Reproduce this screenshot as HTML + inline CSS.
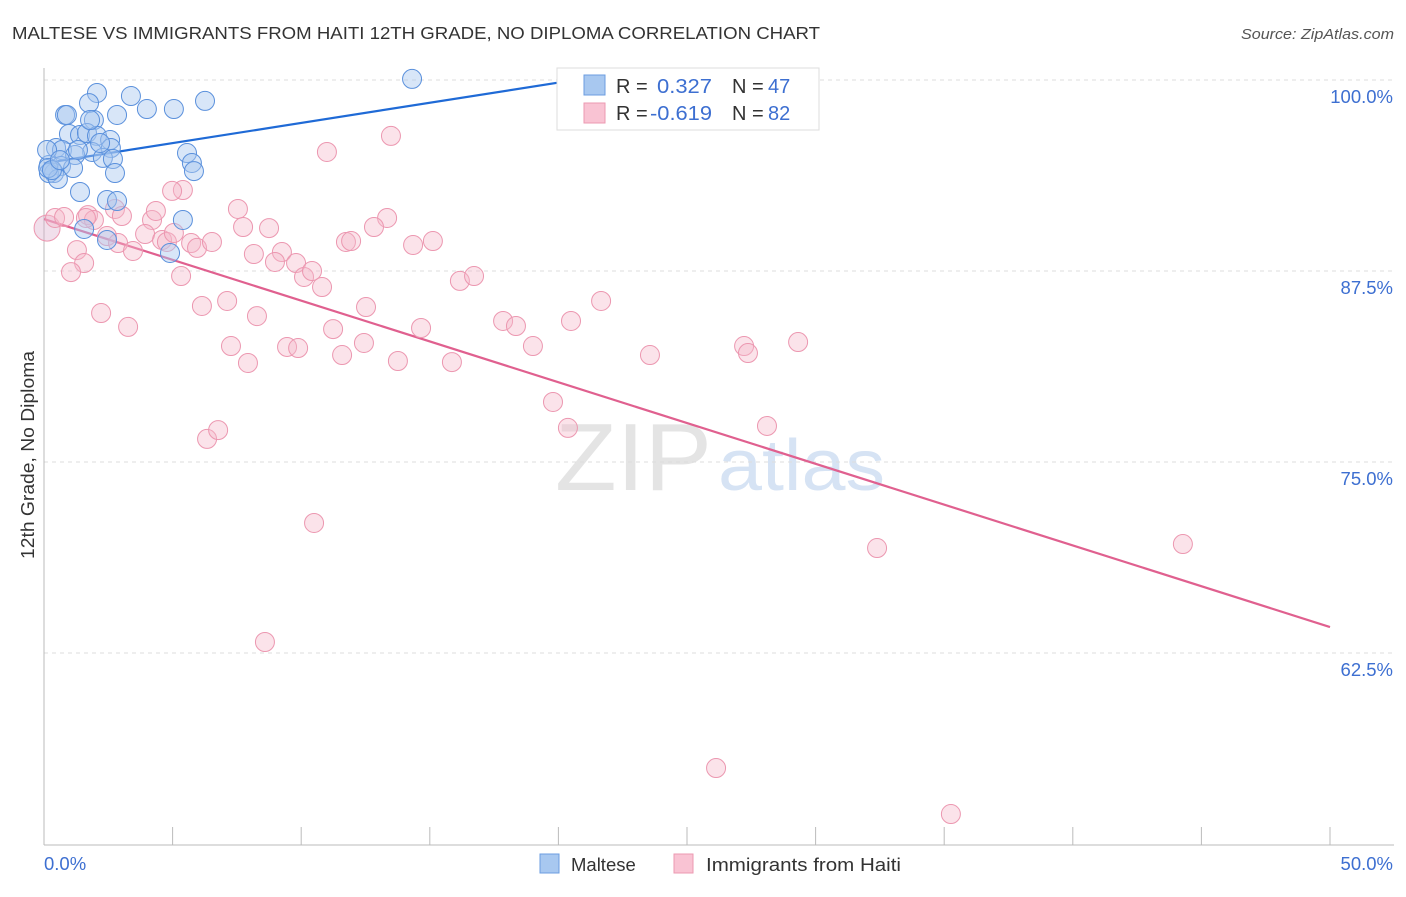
<!DOCTYPE html>
<html><head><meta charset="utf-8"><style>
body{margin:0;background:#fff;font-family:"Liberation Sans",sans-serif;}
svg text{font-family:"Liberation Sans",sans-serif;}
</style></head><body>
<svg id="chart" width="1406" height="892">
<text x="12" y="39" font-size="17.5" fill="#333" textLength="808" lengthAdjust="spacingAndGlyphs">MALTESE VS IMMIGRANTS FROM HAITI 12TH GRADE, NO DIPLOMA CORRELATION CHART</text>
<text x="1394" y="39" font-size="15" fill="#555" font-style="italic" text-anchor="end" textLength="153" lengthAdjust="spacingAndGlyphs">Source: ZipAtlas.com</text>
<text transform="translate(34,455) rotate(-90)" font-size="18" fill="#333" text-anchor="middle" textLength="208" lengthAdjust="spacingAndGlyphs">12th Grade, No Diploma</text>
<g><text x="555" y="490" font-size="96" fill="#e4e4e4" textLength="157" lengthAdjust="spacingAndGlyphs" font-family="Liberation Serif">ZIP</text><text x="718" y="490" font-size="72" fill="#d6e3f4" textLength="167" lengthAdjust="spacingAndGlyphs">atlas</text></g>
<g id="grid"></g><g id="axes"></g><g id="lines"></g><g id="pts"></g>
<g>
<rect x="557" y="68" width="262" height="62" fill="#fff" stroke="#ddd"/>
<rect x="584" y="75" width="21" height="20" fill="#a8c8f0" stroke="#6b9de0"/>
<rect x="584" y="103" width="21" height="20" fill="#f9c3d3" stroke="#ec9ab2"/>
<text x="616" y="93" font-size="20" fill="#333">R = </text><text x="657" y="93" font-size="20" fill="#3d6fd1" textLength="55" lengthAdjust="spacingAndGlyphs">0.327</text>
<text x="732" y="93" font-size="20" fill="#333">N = </text><text x="768" y="93" font-size="20" fill="#3d6fd1">47</text>
<text x="616" y="120" font-size="20" fill="#333">R = </text><text x="650" y="120" font-size="20" fill="#3d6fd1" textLength="62" lengthAdjust="spacingAndGlyphs">-0.619</text>
<text x="732" y="120" font-size="20" fill="#333">N = </text><text x="768" y="120" font-size="20" fill="#3d6fd1">82</text>
</g>
<g>
<rect x="540" y="854" width="19" height="19" fill="#a8c8f0" stroke="#6b9de0"/>
<text x="571" y="871" font-size="18.5" fill="#333">Maltese</text>
<rect x="674" y="854" width="19" height="19" fill="#f9c3d3" stroke="#ec9ab2"/>
<text x="706" y="871" font-size="18.5" fill="#333" textLength="195" lengthAdjust="spacingAndGlyphs">Immigrants from Haiti</text>
</g>
</svg>
<script>
const yTicks=[100,87.5,75,62.5];
const yTickLabels=["100.0%","87.5%","75.0%","62.5%"];
const xTicks=[0,5,10,15,20,25,30,35,40,45,50];
const blueX=[14.31,2.06,3.38,6.26,1.75,4.00,5.05,0.82,0.89,2.84,1.94,0.97,1.40,1.67,2.06,2.57,0.47,0.70,1.87,2.60,1.21,5.56,2.29,2.68,5.75,0.19,0.66,1.13,5.83,0.39,2.76,0.19,0.54,1.40,2.45,2.84,5.40,1.56,2.45,4.90,0.12,0.16,2.18,0.31,1.32,0.62,1.79];
const blueY=[100.07,99.15,98.95,98.63,98.49,98.10,98.10,97.71,97.71,97.71,97.38,96.47,96.40,96.53,96.34,96.07,95.55,95.42,95.29,95.55,95.09,95.22,94.90,94.83,94.57,94.44,94.37,94.24,94.04,93.91,93.91,93.91,93.52,92.67,92.15,92.08,90.84,90.25,89.53,88.68,95.42,94.24,95.88,94.11,95.42,94.76,97.38];
const pinkX=[0.12,0.43,0.78,1.71,1.94,2.76,3.03,4.20,4.35,5.40,7.54,7.74,8.75,13.34,12.83,11.74,11.94,14.35,15.12,1.28,1.56,1.05,2.45,2.88,3.46,3.93,4.59,4.78,5.05,5.72,5.95,6.53,8.16,9.25,8.98,9.80,10.11,10.42,10.81,16.17,16.72,2.22,3.27,5.33,6.14,7.12,8.28,7.27,7.93,9.45,9.88,11.24,11.59,12.44,12.52,13.76,14.66,15.86,17.85,18.35,19.01,20.49,21.66,23.56,27.22,27.37,29.32,19.79,20.37,28.11,6.34,6.77,10.50,32.39,44.28,8.59,26.13,35.26,13.49,11.00,4.98,1.63];
const pinkY=[90.31,90.97,91.03,91.16,90.84,91.56,91.10,90.84,91.43,92.80,91.56,90.38,90.31,90.97,90.38,89.40,89.46,89.20,89.46,88.87,88.02,87.43,89.79,89.33,88.81,89.92,89.53,89.40,89.99,89.33,89.01,89.40,88.61,88.74,88.09,88.02,87.11,87.50,86.45,86.85,87.17,84.75,83.84,87.17,85.21,85.54,84.55,82.59,81.48,82.53,82.46,83.70,82.00,82.79,85.14,81.61,83.77,81.54,84.23,83.90,82.59,84.23,85.54,82.00,82.59,82.13,82.85,78.93,77.23,77.36,76.51,77.09,71.01,69.37,69.63,63.22,54.97,51.96,96.34,95.29,92.74,90.97];
const blueTrendX=[0,21.4];
const blueTrendY=[94.55,100.2];
const pinkTrendX=[0,50];
const pinkTrendY=[90.9,64.2];
const X=v=>44+v/50*1286;
const Y=v=>80+(100-v)/12.5*191;
const NS="http://www.w3.org/2000/svg";
function mk(tag,attrs,parent){const e=document.createElementNS(NS,tag);for(const k in attrs)e.setAttribute(k,attrs[k]);document.getElementById(parent).appendChild(e);return e;}
yTicks.forEach((t,i)=>{
 const l=mk('line',{x1:44,x2:1394,y1:Y(t),y2:Y(t),stroke:'#ddd','stroke-dasharray':'4,4'},'grid');
 
 
 const tx=mk('text',{x:1393,y:Y(t)+23,'font-size':18.5,fill:'#3d6fd1','text-anchor':'end'},'grid');
 tx.textContent=yTickLabels[i];
 
 
});
const ax=mk('line',{x1:44,x2:44,y1:68,y2:845,stroke:'#bbb'},'axes');


const bx=mk('line',{x1:44,x2:1394,y1:845,y2:845,stroke:'#bbb'},'axes');


xTicks.forEach(t=>{
 const l=mk('line',{x1:X(t),x2:X(t),y1:827,y2:845,stroke:'#bbb'},'axes');
 
 
});
const xl0=mk('text',{x:44,y:870,'font-size':18.5,fill:'#3d6fd1'},'axes');xl0.textContent="0.0%";


const xl1=mk('text',{x:1393,y:870,'font-size':18.5,fill:'#3d6fd1','text-anchor':'end'},'axes');xl1.textContent="50.0%";


pinkX.forEach((v,i)=>{
 const c=mk('circle',{cx:X(v),cy:Y(pinkY[i]),r:i==0?13:9.5,fill:i==0?'#dcb0cc':'#f6b8cb','fill-opacity':0.4,stroke:'#ec97b0','stroke-width':1},'pts');
 
 
});
blueX.forEach((v,i)=>{
 const c=mk('circle',{cx:X(v),cy:Y(blueY[i]),r:9.5,fill:'#a8c8f0','fill-opacity':0.45,stroke:'#5a90dc','stroke-width':1},'pts');
 
 
});
const bl=mk('line',{x1:X(blueTrendX[0]),y1:Y(blueTrendY[0]),x2:X(blueTrendX[1]),y2:Y(blueTrendY[1]),stroke:'#1f6ad6','stroke-width':2.2},'lines');


const pl=mk('line',{x1:X(pinkTrendX[0]),y1:Y(pinkTrendY[0]),x2:X(pinkTrendX[1]),y2:Y(pinkTrendY[1]),stroke:'#e0608f','stroke-width':2.2},'lines');


</script>
</body></html>
